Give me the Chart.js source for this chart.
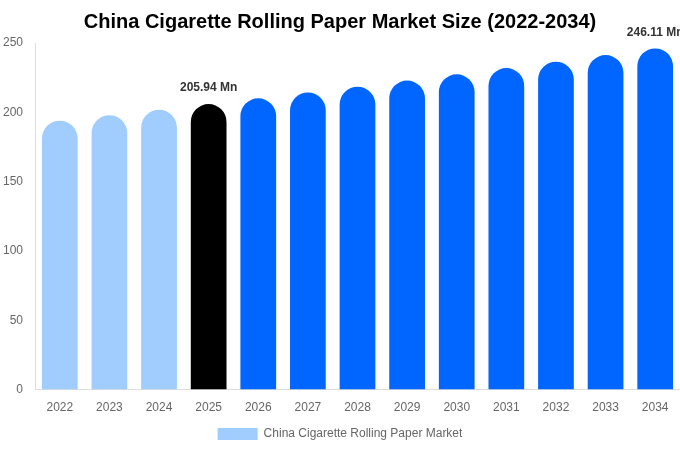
<!DOCTYPE html>
<html>
<head>
<meta charset="utf-8">
<script src="https://cdn.jsdelivr.net/npm/chart.js@4/dist/chart.umd.min.js"></script>
<style>
  html, body { margin: 0; padding: 0; background: #fff; }
  #wrap { width: 680px; height: 450px; }
</style>
</head>
<body>
<div id="wrap"><canvas id="chart"></canvas></div>
<script>
// data
const years = ['2022', '2023', '2024', '2025', '2026', '2027', '2028', '2029', '2030', '2031', '2032', '2033', '2034'];
const marketSize = [194.0, 197.9, 201.9, 205.94, 210.1, 214.3, 218.5, 222.9, 227.4, 231.9, 236.5, 241.3, 246.11];
const barColors = ['#a0cdfe', '#a0cdfe', '#a0cdfe', '#000000', '#0066ff', '#0066ff', '#0066ff', '#0066ff', '#0066ff', '#0066ff', '#0066ff', '#0066ff', '#0066ff'];
const labelledYears = ['2025', '2034'];
const yTicks = [0, 50, 100, 150, 200, 250];

// labels above the 2025 and 2034 bars
const valueLabels = {
    id: 'valueLabels',
    afterDatasetsDraw(chart) {
        const ctx = chart.ctx;
        const meta = chart.getDatasetMeta(0);
        ctx.save();
        ctx.font = 'bold 12px "Liberation Sans", Arial, sans-serif';
        ctx.fillStyle = '#333333';
        ctx.textAlign = 'center';
        ctx.textBaseline = 'bottom';
        meta.data.forEach((bar, i) => {
            if (!labelledYears.includes(years[i])) return;
            ctx.fillText(marketSize[i].toFixed(2) + ' Mn', bar.x, bar.y - 10);
        });
        ctx.restore();
    }
};

new Chart(document.getElementById('chart').getContext('2d'), {
    type: 'bar',
    data: {
        labels: years,
        datasets: [{
            label: 'China Cigarette Rolling Paper Market',
            data: marketSize,
            backgroundColor: barColors,
            borderWidth: 0,
            borderRadius: { topLeft: 100, topRight: 100, bottomLeft: 0, bottomRight: 0 },
            borderSkipped: false,
            categoryPercentage: 0.9,
            barPercentage: 0.8
        }]
    },
    options: {
        responsive: true,
        maintainAspectRatio: false,
        animation: false,
        layout: { padding: { top: 0, right: 0, bottom: 0, left: 0 } },
        plugins: {
            title: {
                display: true,
                text: 'China Cigarette Rolling Paper Market Size (2022-2034)',
                color: '#000000',
                font: { family: '"Liberation Sans", Arial, sans-serif', size: 20, weight: 'bold' },
                padding: { top: 10, bottom: 9 }
            },
            legend: {
                position: 'bottom',
                labels: {
                    color: '#666666',
                    font: { family: '"Liberation Sans", Arial, sans-serif', size: 12 },
                    boxWidth: 40,
                    boxHeight: 12,
                    padding: 8,
                    generateLabels: chart => [{
                        text: chart.data.datasets[0].label,
                        fillStyle: barColors[0],
                        strokeStyle: barColors[0],
                        lineWidth: 0,
                        fontColor: '#666666',
                        datasetIndex: 0
                    }]
                }
            },
            tooltip: { enabled: false }
        },
        scales: {
            x: {
                grid: { display: false },
                border: { display: true, color: '#dddddd' },
                afterFit: axis => { axis.height += 2; },
                ticks: {
                    color: '#666666',
                    font: { family: '"Liberation Sans", Arial, sans-serif', size: 12 },
                    padding: 3
                }
            },
            y: {
                min: 0,
                max: 250,
                grid: { display: false },
                border: { display: true, color: '#dddddd' },
                afterBuildTicks: axis => { axis.ticks = yTicks.map(v => ({ value: v })); },
                afterFit: axis => { axis.width = 35; },
                ticks: {
                    color: '#666666',
                    font: { family: '"Liberation Sans", Arial, sans-serif', size: 12 },
                    padding: 4
                }
            }
        }
    },
    plugins: [valueLabels]
});
</script>
</body>
</html>
